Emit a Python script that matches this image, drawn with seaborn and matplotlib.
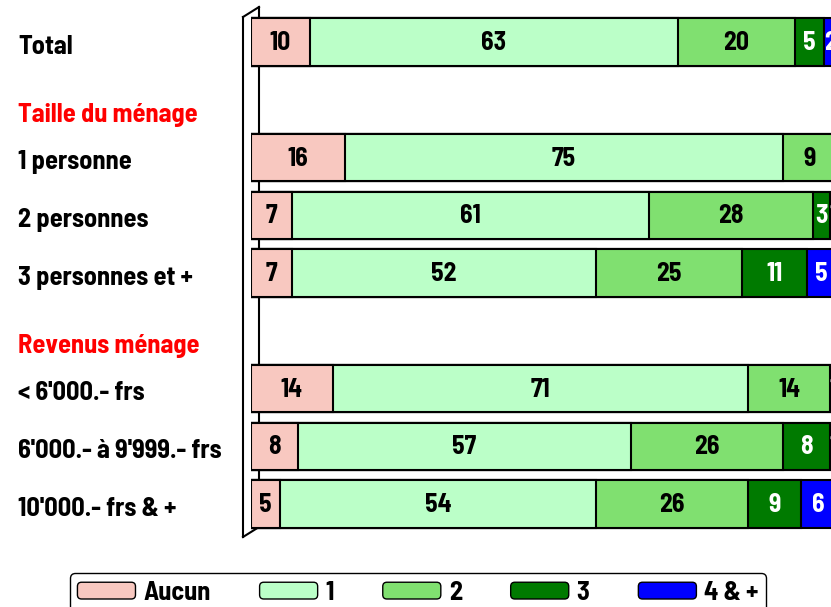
import matplotlib.pyplot as plt
import matplotlib.lines as mlines
import matplotlib.patches as mpatches
from matplotlib.legend_handler import HandlerPatch
from matplotlib.transforms import blended_transform_factory
import pandas as pd
import seaborn as sns

# lignes du graphique (les titres de groupe n'ont pas de barre)
groupes = ['Total', 'Taille du ménage', '1 personne', '2 personnes', '3 personnes et +',
           'Revenus ménage', "< 6'000.- frs", "6'000.- à 9'999.- frs", "10'000.- frs & +"]
titres = ['Taille du ménage', 'Revenus ménage']
lignes = ['Total', '1 personne', '2 personnes', '3 personnes et +',
          "< 6'000.- frs", "6'000.- à 9'999.- frs", "10'000.- frs & +"]

categories = ['Aucun', '1', '2', '3', '4 & +']
aucun = [10, 16, 7, 7, 14, 8, 5]
un = [63, 75, 61, 52, 71, 57, 54]
deux = [20, 9, 28, 25, 14, 26, 26]
trois = [5, 0, 3, 11, 1, 8, 9]
quatre = [2, 0, 1, 5, 0, 1, 6]

couleurs = ['#f8c8c0', '#bbffc8', '#80e070', '#007a00', '#0000ff']
couleurs_texte = ['black', 'black', 'black', 'white', 'white']

plt.rcParams['font.family'] = ['Barlow Semi Condensed', 'DejaVu Sans']
plt.rcParams['font.weight'] = 'bold'

df = pd.DataFrame({'ligne': lignes, 'Aucun': aucun, '1': un, '2': deux, '3': trois, '4 & +': quatre})
cumul = df[categories].cumsum(axis=1)
cumul['ligne'] = df['ligne']

W, H = 831, 607
fig = plt.figure(figsize=(W / 100, H / 100), dpi=100)
ax = fig.add_axes([251 / W, 1 - 533 / H, 585 / W, 520 / H])
ax.patch.set_visible(False)

# barres empilées : on dessine les cumuls du plus grand au plus petit
for cat, coul in reversed(list(zip(categories, couleurs))):
    sns.barplot(data=cumul, x=cat, y='ligne', order=groupes, orient='h', color=coul,
                saturation=1, width=0.82, edgecolor='black', linewidth=1.5, ax=ax)

ax.set_xlim(0, 100)
ax.set_ylim(8.5, -0.5)
ax.set_axis_off()

# valeurs dans les segments
for i, nom in enumerate(lignes):
    y = groupes.index(nom)
    gauche = 0
    for j, cat in enumerate(categories):
        v = df.loc[i, cat]
        if v > 0:
            ax.text(gauche + v / 2, y + 0.02, str(v), ha='center', va='center', fontsize=18.5,
                    color=couleurs_texte[j], fontweight='bold')
        gauche += v

# libellés de gauche
tr = blended_transform_factory(fig.transFigure, ax.transData)
for nom in lignes:
    ax.text(18 / W, groupes.index(nom) + 0.08, nom, transform=tr, ha='left', va='center',
            fontsize=19, fontweight='bold', clip_on=False)
for nom in titres:
    ax.text(18 / W, groupes.index(nom) + 0.27, nom, transform=tr, ha='left', va='center',
            fontsize=19, fontweight='bold', color='#ff0000', clip_on=False)

# paroi en pseudo-3D derrière les barres
def px(x, y):
    return x / W, 1 - y / H

for (x0, y0), (x1, y1) in [((243, 17), (243, 537)), ((259, 7), (259, 527)),
                           ((243, 17), (259, 7)), ((243, 537), (259, 527))]:
    a, b = px(x0, y0)
    c, d = px(x1, y1)
    fig.add_artist(mlines.Line2D([a, c], [b, d], color='black', lw=1.5, zorder=-1))


class HandlerArrondi(HandlerPatch):
    def create_artists(self, legend, orig_handle, xdescent, ydescent, width, height, fontsize, trans):
        p = mpatches.FancyBboxPatch((-xdescent, -ydescent), width, height,
                                    boxstyle='round,pad=0,rounding_size=3',
                                    facecolor=orig_handle.get_facecolor(),
                                    edgecolor='black', lw=1, transform=trans)
        return [p]


poignees = [mpatches.Patch(facecolor=c, edgecolor='black', label=l) for c, l in zip(couleurs, categories)]
leg = fig.legend(handles=poignees, loc='upper center', bbox_to_anchor=(418 / W, 1 - 573 / H),
                 ncol=5, fontsize=19, frameon=True, fancybox=True, handlelength=2.2,
                 handleheight=0.6, handletextpad=0.3, columnspacing=1.85, borderpad=0.3,
                 borderaxespad=0,
                 handler_map={mpatches.Patch: HandlerArrondi()})
leg.get_frame().set_edgecolor('black')
leg.get_frame().set_linewidth(1)
leg.get_frame().set_alpha(1)

fig.savefig('out.png', dpi=100)
